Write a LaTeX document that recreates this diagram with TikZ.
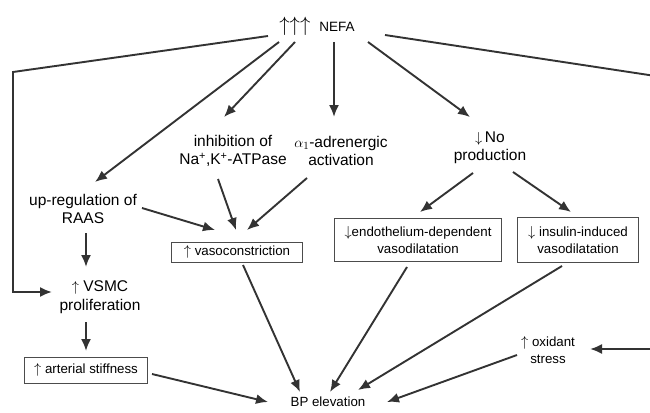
\documentclass[tikz,border=0pt]{standalone}
\usepackage{fontspec}
\setmainfont{Liberation Sans}
\usetikzlibrary{arrows.meta}
\newcommand{\bigup}{{\fontsize{21}{21}\selectfont$\uparrow\uparrow\uparrow$}}
\tikzset{
  lbl/.style={align=center, font=\fontsize{15.5}{18.5}\selectfont, inner sep=0pt},
  boxed/.style={draw=black!70, line width=0.8pt, align=center, font=\fontsize{13.3}{16.5}\selectfont, inner sep=3pt},
  conn/.style={draw=black!80, line width=1.9pt, -{Latex[length=12pt,width=10pt]}},
}
\begin{document}
\begin{tikzpicture}[x=1pt,y=-1pt]
  \clip (0,0) rectangle (650,412);
  % causes
  \node[lbl, font=\fontsize{13.5}{16}\selectfont] (nefa) at (317,26) {\bigup\hspace{9pt}NEFA};
  \node[lbl] (upreg) at (83,209) {up-regulation of\\RAAS};
  \node[lbl] (inh) at (233,151) {inhibition of\\Na\textsuperscript{+},K\textsuperscript{+}-ATPase};
  \node[lbl] (alpha) at (341,151) {$\alpha_1$-adrenergic\\activation};
  \node[lbl] (nop) at (490,148) {$\downarrow$\,No\\production};
  \node[lbl] (vsmc) at (100,297) {$\uparrow$ VSMC\\proliferation};
  % effects
  \node[boxed, minimum width=131pt, minimum height=20pt] (vasoc) at (237,252) {$\uparrow$ vasoconstriction};
  \node[boxed, minimum width=167pt, minimum height=43pt] (endo) at (418,240) {$\downarrow$endothelium-dependent\\vasodilatation};
  \node[boxed, minimum width=121pt, minimum height=45pt] (insul) at (578,240) {$\downarrow$ insulin-induced\\vasodilatation};
  \node[boxed, minimum width=123pt, minimum height=26pt] (artst) at (86,370) {$\uparrow$ arterial stiffness};
  \node[lbl, font=\fontsize{13.3}{17}\selectfont] (oxid) at (548,350) {$\uparrow$ oxidant\\stress};
  \node[lbl, font=\fontsize{13.3}{16}\selectfont] (bp) at (328,402) {BP elevation};
  % from NEFA
  \draw[conn] ([shift={(-49,10)}]nefa.center) -- (13,72) |- ([shift={(-48,-5)}]vsmc.center);
  \draw[conn] ([shift={(-38,16)}]nefa.center) -- ([shift={(12,-27)}]upreg.center);
  \draw[conn] ([shift={(-22,16)}]nefa.center) -- ([shift={(-9,-34)}]inh.center);
  \draw[conn] ([shift={(17,16)}]nefa.center) -- ([shift={(-7,-34)}]alpha.center);
  \draw[conn] ([shift={(51,16)}]nefa.center) -- ([shift={(-20,-31)}]nop.center);
  \draw[conn] ([shift={(68,9)}]nefa.center) -- (662,77) |- ([shift={(42,-1)}]oxid.center);
  % middle
  \draw[conn] ([shift={(3,24)}]upreg.center) -- ([shift={(-14,-30)}]vsmc.center);
  \draw[conn] ([shift={(-14,25)}]vsmc.center) -- ([shift={(0,-19)}]artst.center);
  \draw[conn] ([shift={(59,-1)}]upreg.center) -- ([shift={(-22,-22)}]vasoc.center);
  \draw[conn] ([shift={(-15,28)}]inh.center) -- ([shift={(-1,-22)}]vasoc.center);
  \draw[conn] ([shift={(-34,27)}]alpha.center) -- ([shift={(10,-22)}]vasoc.center);
  \draw[conn] ([shift={(-17,25)}]nop.center) -- ([shift={(2,-28)}]endo.center);
  \draw[conn] ([shift={(23,24)}]nop.center) -- ([shift={(-7,-28)}]insul.center);
  % to BP
  \draw[conn] ([shift={(6,13)}]vasoc.center) -- ([shift={(-28,-10)}]bp.center);
  \draw[conn] ([shift={(-11,27)}]endo.center) -- ([shift={(2,-10)}]bp.center);
  \draw[conn] ([shift={(-16,26)}]insul.center) -- ([shift={(30,-12)}]bp.center);
  \draw[conn] ([shift={(-31,5)}]oxid.center) -- ([shift={(59,0)}]bp.center);
  \draw[conn] ([shift={(66,4)}]artst.center) -- ([shift={(-60,0)}]bp.center);
\end{tikzpicture}
\end{document}
